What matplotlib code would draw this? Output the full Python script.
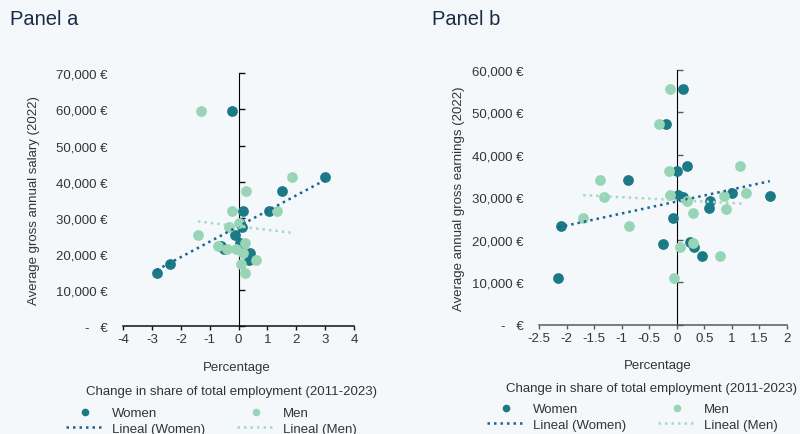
import numpy as np
from matplotlib import pyplot as plt
from matplotlib.lines import Line2D

plt.rcParams['font.family'] = ['Liberation Sans', 'DejaVu Sans']

# Panel a: change in share of employment (pp) vs average gross annual salary (2022)
a_women_x = [-0.22, 2.99, 1.50, 1.04, 0.15, 0.05, 0.13, -0.14, 0.05, -0.60, -0.50, 0.09, 0.38, 0.35, -2.38, -2.84]
a_men_x = [-1.29, 1.85, 0.24, 1.33, -0.22, 0.01, -0.34, -1.41, 0.21, -0.72, -0.39, -0.08, 0.15, 0.61, 0.09, 0.21]
a_women_y = [59500, 41420, 37450, 31900, 31900, 28530, 27420, 25370, 23000, 22240, 21500, 22330, 20220, 18370, 17250, 14760]
a_men_y = [59500, 41420, 37450, 31900, 31900, 28530, 27420, 25370, 23000, 22240, 21500, 21500, 20220, 18370, 17260, 14680]

# Panel b: change in share of employment (pp) vs average annual gross earnings (2022)
b_women_x = [0.12, -0.19, 0.18, 0.00, -0.89, 0.03, 0.12, 1.01, 1.69, 0.61, 0.59, -0.06, -2.10, -0.25, 0.24, 0.32, 0.45, -2.15]
b_women_y = [55540, 47290, 37470, 36290, 34090, 30520, 30020, 30950, 30400, 29230, 27430, 25140, 23330, 19020, 19420, 18240, 16260, 11000]
b_men_x = [-0.12, -0.33, 1.15, -0.15, -1.39, -1.32, -0.12, 0.19, 0.85, 1.25, 0.30, 0.89, -1.70, -0.87, 0.05, 0.29, 0.79, -0.05]
b_men_y = [55540, 47290, 37470, 36290, 34090, 30000, 30520, 29230, 30400, 30950, 26320, 27340, 25140, 23330, 18240, 19180, 16260, 11000]

a_xticks = [-4, -3, -2, -1, 0, 1, 2, 3, 4]
a_yticks = [0, 10000, 20000, 30000, 40000, 50000, 60000, 70000]
b_xticks = [-2.5, -2, -1.5, -1, -0.5, 0, 0.5, 1, 1.5, 2]
b_yticks = [0, 10000, 20000, 30000, 40000, 50000, 60000]

C_WOMEN = '#1b7a85'
C_MEN = '#98d4b6'
C_WOMEN_TREND = '#1f6391'
C_MEN_TREND = '#a3dcc2'
BG = '#f4f8fa'
TXT = '#333333'
FS = 9.5
DOTS = (0, (1, 1.6))


def euro(v):
    return '-   €' if v == 0 else f'{v:,.0f} €'


def trend(ax, x, y, color):
    k, b = np.polyfit(x, y, 1)
    xs = np.array([min(x), max(x)])
    ax.plot(xs, k * xs + b, color=color, ls=DOTS, lw=1.8, zorder=3)


def panel(ax, wx, wy, mx, my, xticks, yticks, ylabel, axcolor):
    ax.set_facecolor(BG)
    # men drawn on top of women, as in the original
    ax.scatter(wx, wy, s=60, color=C_WOMEN, zorder=2, linewidths=0)
    ax.scatter(mx, my, s=60, color=C_MEN, zorder=2, linewidths=0)
    trend(ax, wx, wy, C_WOMEN_TREND)
    trend(ax, mx, my, C_MEN_TREND)
    ax.set_xlim(xticks[0], xticks[-1])
    ax.set_ylim(yticks[0], yticks[-1])
    ax.set_xticks(xticks)
    ax.set_xticklabels([f'{v:g}' for v in xticks])
    ax.set_yticks(yticks)
    ax.set_yticklabels([euro(v) for v in yticks])
    for s in ['top', 'right', 'left']:
        ax.spines[s].set_visible(False)
    ax.spines['bottom'].set_color(axcolor)
    ax.spines['bottom'].set_linewidth(1.1)
    ax.tick_params(axis='x', direction='out', length=3, width=1, color=axcolor,
                   labelsize=FS, labelcolor=TXT, pad=2)
    ax.tick_params(axis='y', length=0, labelsize=FS, labelcolor=TXT, pad=11)
    # vertical axis crossing at x = 0
    loc = (0 - xticks[0]) / (xticks[-1] - xticks[0])
    sec = ax.secondary_yaxis(loc)
    sec.set_yticks(yticks)
    sec.set_yticklabels([])
    sec.spines['left'].set_color(axcolor)
    sec.spines['left'].set_linewidth(1.6)
    sec.tick_params(axis='y', direction='out', length=4, width=1, color=axcolor)
    ax.set_ylabel(ylabel, fontsize=FS, color=TXT)
    ax.set_xlabel('Percentage', fontsize=FS, color=TXT)


handles = [
    Line2D([], [], ls='none', marker='o', ms=5.5, color=C_WOMEN, mew=0),
    Line2D([], [], ls=DOTS, lw=1.8, color=C_WOMEN_TREND),
    Line2D([], [], ls='none', marker='o', ms=5.5, color=C_MEN, mew=0),
    Line2D([], [], ls=DOTS, lw=1.8, color=C_MEN_TREND),
]
labels = ['Women', 'Lineal (Women)', 'Men', 'Lineal (Men)']

fig = plt.figure(figsize=(8, 4.35), dpi=100, facecolor=BG)
ax1 = fig.add_axes([0.154, 0.2476, 0.2885, 0.5816])
ax2 = fig.add_axes([0.674, 0.2513, 0.3095, 0.5855])

panel(ax1, a_women_x, a_women_y, a_men_x, a_men_y, a_xticks, a_yticks,
      'Average gross annual salary (2022)', '#111111')
panel(ax2, b_women_x, b_women_y, b_men_x, b_men_y, b_xticks, b_yticks,
      'Average annual gross earnings (2022)', '#5a5a5a')

ax1.yaxis.set_label_coords(-0.36, 0.5)
ax2.yaxis.set_label_coords(-0.30, 0.5)
ax1.xaxis.set_label_coords(0.49, -0.138)
ax2.xaxis.set_label_coords(0.48, -0.135)

# legend title as plain text, legend rows below it
for ax, tx, ty, lx, ly in [(ax1, 0.289, 392, 0.082, 408), (ax2, 0.814, 389, 0.609, 404)]:
    fig.text(tx, 1 - ty / 435, 'Change in share of total employment (2011-2023)',
             fontsize=FS, color=TXT, ha='center', va='center')
    leg = ax.legend(handles, labels, ncol=2, loc='upper left', bbox_to_anchor=(lx, 1 - ly / 435),
                    bbox_transform=fig.transFigure, frameon=False, fontsize=FS,
                    handlelength=2.9, handletextpad=0.6, columnspacing=2.4,
                    labelspacing=0.25, borderpad=0, borderaxespad=0)
    for t in leg.get_texts():
        t.set_color(TXT)

fig.text(0.012, 0.955, 'Panel a', fontsize=14.5, color='#1b2b45', va='center')
fig.text(0.540, 0.955, 'Panel b', fontsize=14.5, color='#1b2b45', va='center')

fig.savefig('out.png', dpi=100, facecolor=BG)
